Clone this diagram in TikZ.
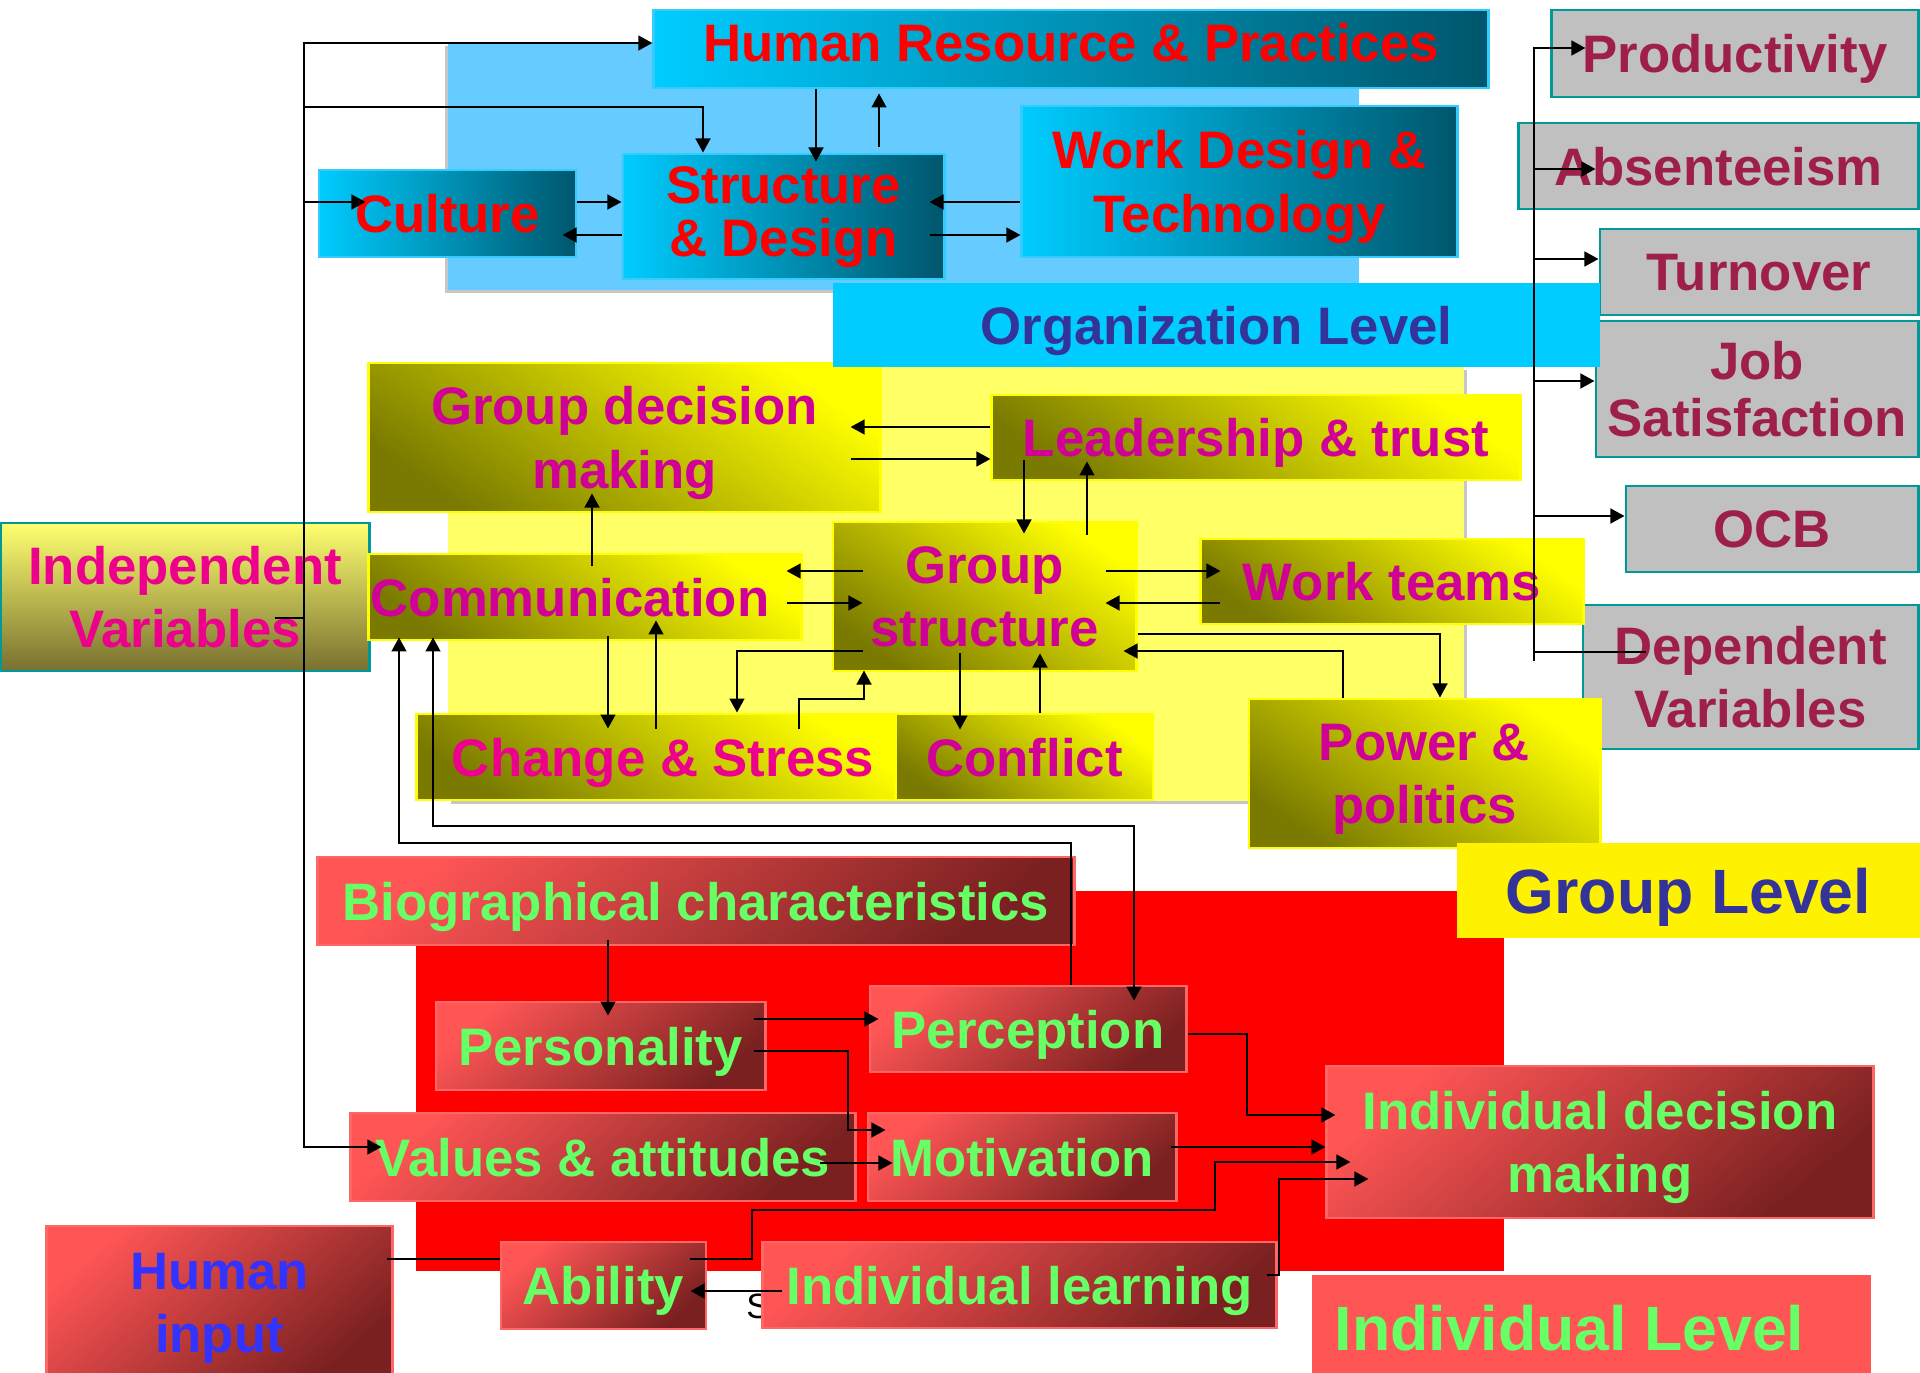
\documentclass[tikz,border=0pt]{standalone}
\usepackage{fontspec}
\setmainfont{Liberation Sans}
\usetikzlibrary{arrows.meta,calc}
\definecolor{orgBg}{HTML}{66CCFF}
\definecolor{orgL}{HTML}{00CCFF}
\definecolor{orgD}{HTML}{00566C}
\definecolor{orgE}{HTML}{33CCFF}
\definecolor{grpBg}{HTML}{FFFF66}
\definecolor{grpL}{HTML}{FFFF00}
\definecolor{grpD}{HTML}{7A7A00}
\definecolor{grpT}{HTML}{D10096}
\definecolor{ivL}{HTML}{FFFF70}
\definecolor{ivD}{HTML}{787030}
\definecolor{depF}{HTML}{C0C0C0}
\definecolor{depE}{HTML}{009999}
\definecolor{depT}{HTML}{9E1F4B}
\definecolor{indL}{HTML}{FF5555}
\definecolor{indD}{HTML}{7A2020}
\definecolor{indE}{HTML}{FF6666}
\definecolor{indT}{HTML}{66FF66}
\definecolor{lvlT}{HTML}{333399}
\definecolor{humT}{HTML}{3333FF}
\newcommand\boxfont{\fontsize{15}{18}\selectfont\bfseries}
\newcommand\tightfont{\fontsize{15}{14.8}\selectfont\bfseries}
\newcommand\jobfont{\fontsize{15}{16.3}\selectfont\bfseries}
\newcommand\lvlfont{\fontsize{17.8}{21}\selectfont\bfseries}
\tikzset{
  base/.style={inner sep=0pt, align=center, font=\boxfont, line width=0.8pt, text depth=0pt},
  orgbox/.style={base, draw=orgE, left color=orgL, right color=orgD, text=red},
  grpbox/.style={base, draw=grpL, top color=grpL, bottom color=grpD, shading angle=-35, text=grpT},
  indbox/.style={base, draw=indE, top color=indL, bottom color=indD, shading angle=40, text=indT},
  depbox/.style={base, draw=depE, fill=depF, text=depT},
  link/.style={line width=0.65pt}
}

\begin{document}
\begin{tikzpicture}[x=0.01cm,y=-0.01cm,>={Triangle[length=4pt,width=4.2pt]}]
\useasboundingbox (0,0) rectangle (1920,1373);
% level backgrounds
\fill[black!22] (445,46) rectangle (1356,293);
\fill[orgBg] (448,43) rectangle (1359,290);
\fill[black!22] (451,370) rectangle (1467,804);
\fill[grpBg] (448,367) rectangle (1464,801);
\fill[red] (416,891) rectangle (1504,1271);

% organization level
\node[orgbox, text depth=4pt, minimum width=8.34cm, minimum height=.78cm] (hr) at (1071,49) {Human Resource \& Practices};
\node[orgbox, minimum width=2.57cm, minimum height=.87cm] (culture) at (447.5,213.5) {Culture};
\node[orgbox, font=\tightfont, text depth=2.8pt, minimum width=3.21cm, minimum height=1.25cm] (struct) at (783.5,216.5) {Structure\\\& Design};
\node[orgbox, minimum width=4.35cm, minimum height=1.51cm] (workdes) at (1239.5,181.5) {Work Design \&\\Technology};

% dependent variables
\node[depbox, minimum width=3.66cm, minimum height=.87cm] (prod) at (1735,53.5) {Productivity};
\node[depbox, minimum width=3.99cm, minimum height=.86cm] (absent) at (1718.5,166) {Absenteeism};
\node[depbox, minimum width=3.18cm, minimum height=.86cm] (turn) at (1759,272) {Turnover};
\node[depbox, font=\jobfont, minimum width=3.22cm, minimum height=1.36cm] (jobsat) at (1757,389) {Job\\Satisfaction};
\node[depbox, minimum width=2.92cm, minimum height=.86cm] (ocb) at (1772,529) {OCB};
\node[depbox, minimum width=3.35cm, minimum height=1.44cm] (depvar) at (1750.5,677) {Dependent\\Variables};

% group level
\node[grpbox, draw=depE, top color=ivL, bottom color=ivD, text=magenta, minimum width=3.68cm, minimum height=1.48cm] (indep) at (185,597) {Independent\\Variables};
\node[grpbox, minimum width=5.11cm, minimum height=1.49cm] (gdm) at (624.5,437.5) {Group decision\\making};
\node[grpbox, minimum width=5.28cm, minimum height=.85cm] (lead) at (1256,437.5) {Leadership \& trust};
\node[grpbox, minimum width=4.32cm, minimum height=.86cm] (comm) at (585,597) {Communication\kern8.5pt};
\node[grpbox, minimum width=3.03cm, minimum height=1.49cm] (gstruct) at (984.5,596.5) {Group\\structure};
\node[grpbox, minimum width=3.82cm, minimum height=.85cm] (wteams) at (1392,581.5) {Work teams};
\node[grpbox, text=magenta, minimum width=4.78cm, minimum height=.86cm] (change) at (656,757) {\kern4pt Change \& Stress};
\node[grpbox, minimum width=2.57cm, minimum height=.86cm] (conflict) at (1024.5,757) {Conflict};
\node[grpbox, minimum width=3.51cm, minimum height=1.49cm] (power) at (1424.5,773.5) {Power \&\\politics};
\node[base, fill=orgL, text=lvlT, minimum width=7.67cm, minimum height=.84cm] (orglvl) at (1216.5,325) {Organization Level};
\node[base, font=\lvlfont, fill=yellow, text=lvlT, minimum width=4.63cm, minimum height=.95cm] (grplvl) at (1688.5,890.5) {Group Level};

% individual level
\node[indbox, minimum width=7.56cm, minimum height=.88cm] (bio) at (696,901) {Biographical characteristics};
\node[indbox, minimum width=3.29cm, minimum height=.88cm] (pers) at (600.5,1046) {Personality};
\node[indbox, minimum width=3.16cm, minimum height=.86cm] (percep) at (1028,1029) {Perception};
\node[indbox, minimum width=5.04cm, minimum height=.88cm] (values) at (603,1157) {Values \& attitudes};
\node[indbox, minimum width=3.08cm, minimum height=.88cm] (motiv) at (1022,1157) {Motivation};
\node[indbox, minimum width=5.46cm, minimum height=1.52cm] (idm) at (1600,1142) {Individual decision\\making};
\node[indbox, text=humT, minimum width=3.45cm, minimum height=1.54cm] (human) at (219.5,1303) {Human\\input};
\node[indbox, minimum width=2.05cm, minimum height=.87cm] (ability) at (603.5,1285.5) {Ability};
\node[inner sep=0pt, font=\fontsize{10}{12}\selectfont] (s) at (758,1306) {S};
\node[indbox, minimum width=5.13cm, minimum height=.86cm] (ilearn) at (1019.5,1285) {Individual learning};
\node[base, font=\lvlfont, fill=indL, text=indT, minimum width=5.59cm, minimum height=1.05cm] (indlvl) at (1591.5,1327.5) {Individual Level\kern12.5pt};

% trunk from the independent variables
\coordinate (tr) at (304,618);
\draw[link] ($(indep.east |- 0,618)+(-96,0)$) -- (tr);
\draw[link,->] (tr) |- (hr.west |- 0,43);
\draw[link,->] (tr) |- (703,107) -- (struct.north -| 703,0);
\draw[link,->] (tr) |- ($(culture.west)+(48,-11.5)$);
\draw[link,->] (tr) |- ($(values.west |- 0,1147)+(32,0)$);

% trunk to the dependent variables
\coordinate (dvtr) at (1534,652);
\draw[link] ($(depvar.west)+(64,-25)$) -- (dvtr) -- ++(0,9);
\draw[link,->] (dvtr) |- ($(prod.west)+(35,-5.5)$);
\draw[link,->] (dvtr) |- ($(absent.west)+(78,3)$);
\draw[link,->] (dvtr) |- (turn.west |- 0,259);
\draw[link,->] (dvtr) |- (jobsat.west |- 0,381);
\draw[link,->] (dvtr) |- (ocb.west |- 0,516);

% organization links
\draw[link,->] (hr.south -| 816,0) -- ($(struct.north -| 816,0)+(0,9)$);
\draw[link,->] ($(struct.north -| 879,0)+(0,-6)$) -- ($(hr.south -| 879,0)+(0,4)$);
\draw[link,->] (culture.east |- 0,202) -- (struct.west |- 0,202);
\draw[link,->] (struct.west |- 0,235) -- ($(culture.east |- 0,235)+(-15,0)$);
\draw[link,->] (workdes.west |- 0,202) -- ($(struct.east |- 0,202)+(-16,0)$);
\draw[link,->] ($(struct.east |- 0,235)+(-16,0)$) -- (workdes.west |- 0,235);

% group links
\draw[link,->] (lead.west |- 0,427) -- ($(gdm.east |- 0,427)+(-31,0)$);
\draw[link,->] ($(gdm.east |- 0,459)+(-31,0)$) -- (lead.west |- 0,459);
\draw[link,->] ($(comm.north -| 592,0)+(0,13)$) -- ($(gdm.south -| 592,0)+(0,-20)$);
\draw[link,->] ($(lead.south -| 1024,0)+(0,-21)$) -- ($(gstruct.north -| 1024,0)+(0,13)$);
\draw[link,->] ($(gstruct.north -| 1087,0)+(0,14)$) -- ($(lead.south -| 1087,0)+(0,-20)$);
\draw[link,->] ($(gstruct.west |- 0,571)+(31,0)$) -- ($(comm.east |- 0,571)+(-16,0)$);
\draw[link,->] ($(comm.east |- 0,603)+(-16,0)$) -- ($(gstruct.west |- 0,603)+(31,0)$);
\draw[link,->] ($(gstruct.east |- 0,571)+(-32,0)$) -- ($(wteams.west |- 0,571)+(21,0)$);
\draw[link,->] ($(wteams.west |- 0,603)+(21,0)$) -- ($(gstruct.east |- 0,603)+(-32,0)$);
\draw[link,->] (gstruct.east |- 0,634) -| (power.north -| 1440,0);
\draw[link,->] (power.north -| 1343,0) |- ($(gstruct.east |- 0,651)+(-14,0)$);
\draw[link,->] ($(comm.south -| 608,0)+(0,-5)$) -- ($(change.north -| 608,0)+(0,16)$);
\draw[link,->] ($(change.north -| 656,0)+(0,16)$) -- ($(comm.south -| 656,0)+(0,-21)$);
\draw[link,->] ($(gstruct.west |- 0,651)+(31,0)$) -| (change.north -| 737,0);
\draw[link,->] ($(change.north -| 799,0)+(0,16)$) |- (864,699) -- ($(gstruct.south -| 864,0)+(0,-2)$);
\draw[link,->] ($(gstruct.south -| 960,0)+(0,-19)$) -- ($(conflict.north -| 960,0)+(0,17)$);
\draw[link,->] (conflict.north -| 1040,0) -- ($(gstruct.south -| 1040,0)+(0,-19)$);
\draw[link,->] (percep.north -| 1071,0) |- (399,843) -- ($(comm.south -| 399,0)+(0,-4)$);
\draw[link,<->] ($(comm.south -| 433,0)+(0,-4)$) |- (1134,826) -- ($(percep.north -| 1134,0)+(0,16)$);

% individual links
\draw[link,->] ($(bio.south -| 608,0)+(0,-6)$) -- ($(pers.north -| 608,0)+(0,15)$);
\draw[link,->] ($(pers.east |- 0,1019)+(-13,0)$) -- ($(percep.west |- 0,1019)+(10,0)$);
\draw[link,->] ($(pers.east |- 0,1051)+(-13,0)$) -| (848,1130) -- ($(motiv.west |- 0,1130)+(19,0)$);
\draw[link,->] ($(values.east |- 0,1163)+(-37,0)$) -- ($(motiv.west |- 0,1163)+(26,0)$);
\draw[link,->] (percep.east |- 0,1034) -| (1247,1115) -- ($(idm.west |- 0,1115)+(10,0)$);
\draw[link,->] ($(motiv.east |- 0,1147)+(-7,0)$) -- (idm.west |- 0,1147);
\draw[link,->] ($(ability.east |- 0,1259)+(-17,0)$) -| (752,1210) -| (1215,1162) -- ($(idm.west |- 0,1162)+(25,0)$);
\draw[link] ($(human.east |- 0,1259)+(-7,0)$) -- (ability.west |- 0,1259);
\draw[link,->] ($(ilearn.west |- 0,1291)+(21,0)$) -- ($(ability.east |- 0,1291)+(-17,0)$);
\draw[link,->] ($(ilearn.east |- 0,1275)+(-11,0)$) -| (1279,1179) -- ($(idm.west |- 0,1179)+(43,0)$);
\end{tikzpicture}
\end{document}
